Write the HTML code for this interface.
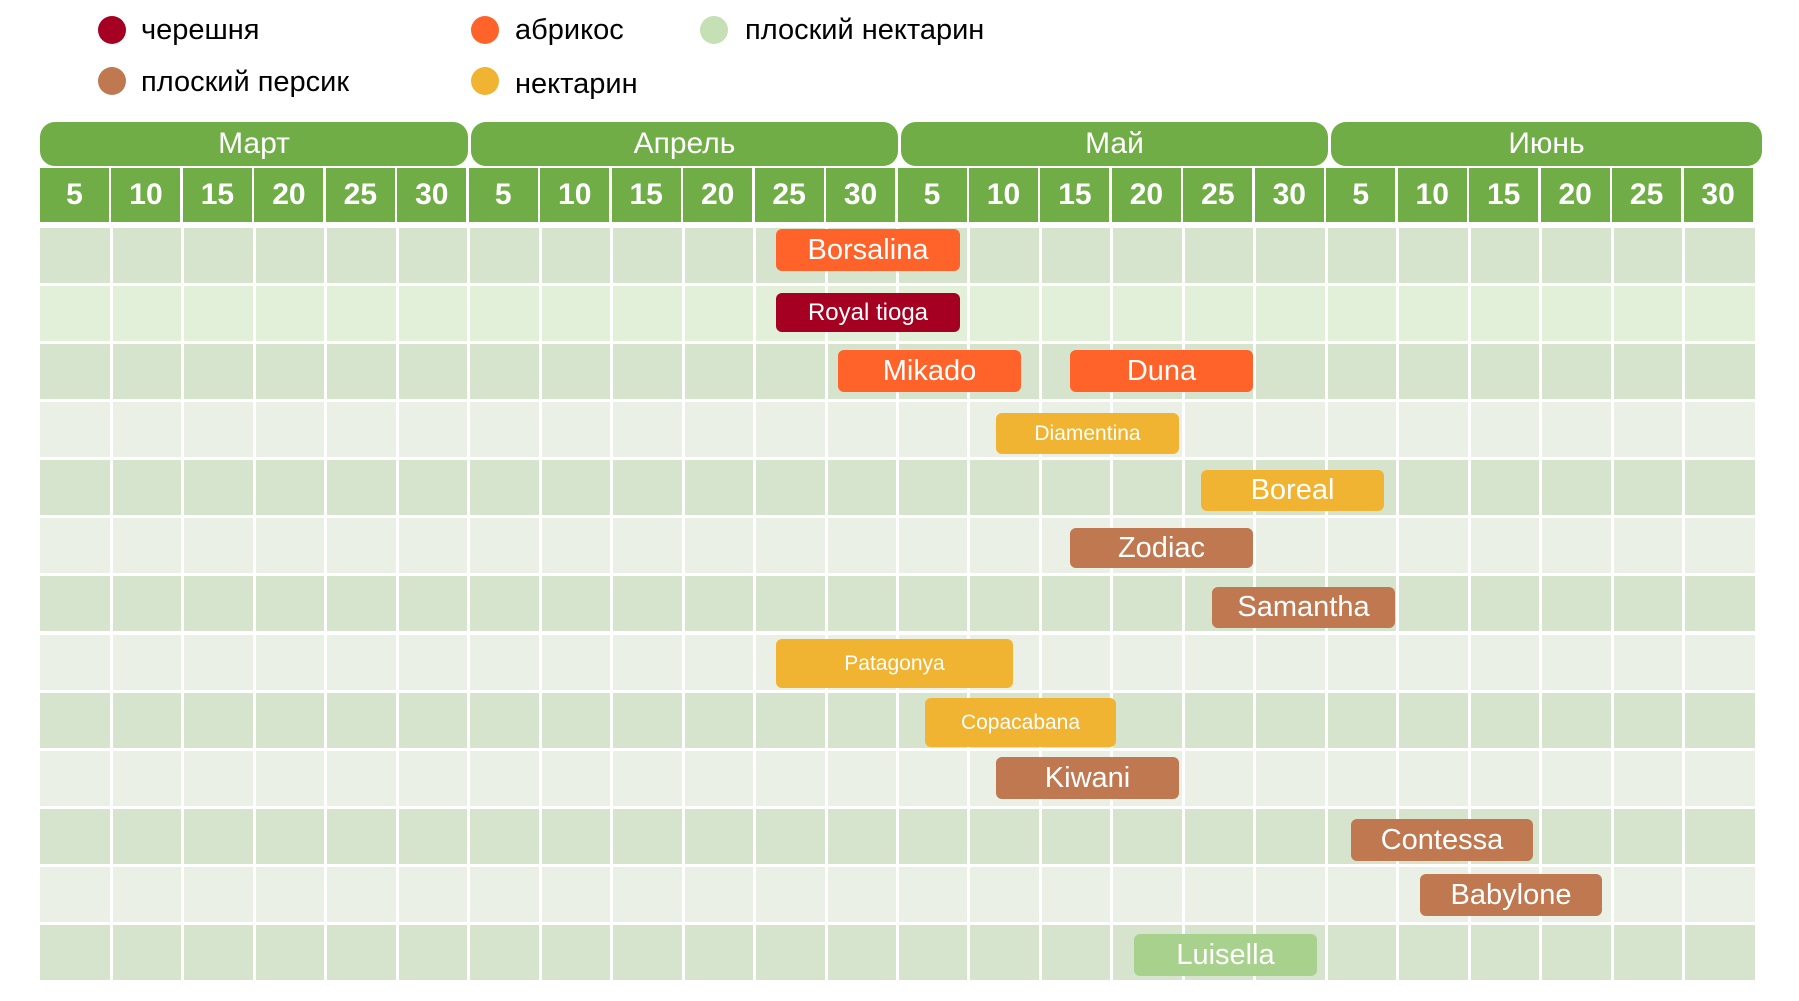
<!DOCTYPE html>
<html><head><meta charset="utf-8"><style>
body{margin:0;width:1799px;height:1001px;background:#fff;position:relative;overflow:hidden;font-family:"Liberation Sans Narrow","Liberation Sans",sans-serif;}
div{position:absolute;box-sizing:border-box}
.dot{width:28px;height:28px;border-radius:50%}
.lt{font-size:29px;color:#000;line-height:30px}
.mo{top:122px;height:44px;background:#70ad47;border-radius:15px;color:#fff;font-size:30px;text-align:center;line-height:44px}
.dy{top:168px;height:54px;background:#70ad47;color:#fff;font-weight:bold;font-size:30px;text-align:center;line-height:54px}
.row{left:40px;width:1715px}
.vl{top:228px;height:755px;width:3px;background:#fff}
.b{color:#fff;text-align:center;border-radius:6px;white-space:nowrap;display:flex;align-items:center;justify-content:center}
</style></head><body>
<div class="dot" style="left:98px;top:16px;background:#a50021"></div><div class="lt" style="left:141px;top:15px">черешня</div>
<div class="dot" style="left:471px;top:16px;background:#ff6329"></div><div class="lt" style="left:515px;top:15px">абрикос</div>
<div class="dot" style="left:700px;top:16px;background:#c5e0b4"></div><div class="lt" style="left:745px;top:15px">плоский нектарин</div>
<div class="dot" style="left:98px;top:67px;background:#c07850"></div><div class="lt" style="left:141px;top:67px">плоский персик</div>
<div class="dot" style="left:471px;top:67px;background:#f0b432"></div><div class="lt" style="left:515px;top:69px">нектарин</div>

<div class="mo" style="left:40px;width:428px">Март</div>
<div class="mo" style="left:471px;width:427px">Апрель</div>
<div class="mo" style="left:901px;width:427px">Май</div>
<div class="mo" style="left:1331px;width:431px">Июнь</div>
<div id="days"></div>
<div id="rows"></div>
<script>
var d=[5,10,15,20,25,30],h='';
for(var i=0;i<24;i++){var x=40+71.46*i;h+='<div class="dy" style="left:'+x+'px;width:69px">'+d[i%6]+'</div>';}
document.getElementById('days').outerHTML=h;
var r='';
for(var j=0;j<13;j++){var y=228+58.08*j;var c=j%2==0?'#d7e4cd':(j==1?'#e2efd9':'#eaf0e6');r+='<div class="row" style="top:'+y+'px;height:55px;background:'+c+'"></div>';}
for(var i=1;i<24;i++){r+='<div class="vl" style="left:'+(40+71.46*i-1.5)+'px"></div>';}
document.getElementById('rows').outerHTML=r;
</script>
<div class="b" style="left:776px;top:229px;width:184px;height:42px;background:#ff6329;font-size:29px">Borsalina</div>
<div class="b" style="left:776px;top:293px;width:184px;height:39px;background:#a50021;font-size:24px">Royal tioga</div>
<div class="b" style="left:838px;top:350px;width:183px;height:42px;background:#ff6329;font-size:29px">Mikado</div>
<div class="b" style="left:1070px;top:350px;width:183px;height:42px;background:#ff6329;font-size:29px">Duna</div>
<div class="b" style="left:996px;top:413px;width:183px;height:41px;background:#f0b432;font-size:21px">Diamentina</div>
<div class="b" style="left:1201px;top:470px;width:183px;height:41px;background:#f0b432;font-size:29px">Boreal</div>
<div class="b" style="left:1070px;top:528px;width:183px;height:40px;background:#c07850;font-size:29px">Zodiac</div>
<div class="b" style="left:1212px;top:587px;width:183px;height:41px;background:#c07850;font-size:29px">Samantha</div>
<div class="b" style="left:776px;top:639px;width:237px;height:49px;background:#f0b432;font-size:21px">Patagonya</div>
<div class="b" style="left:925px;top:698px;width:191px;height:49px;background:#f0b432;font-size:21px">Copacabana</div>
<div class="b" style="left:996px;top:757px;width:183px;height:42px;background:#c07850;font-size:29px">Kiwani</div>
<div class="b" style="left:1351px;top:819px;width:182px;height:42px;background:#c07850;font-size:29px">Contessa</div>
<div class="b" style="left:1420px;top:874px;width:182px;height:42px;background:#c07850;font-size:29px">Babylone</div>
<div class="b" style="left:1134px;top:934px;width:183px;height:42px;background:#a9d18e;font-size:29px">Luisella</div>
</body></html>
